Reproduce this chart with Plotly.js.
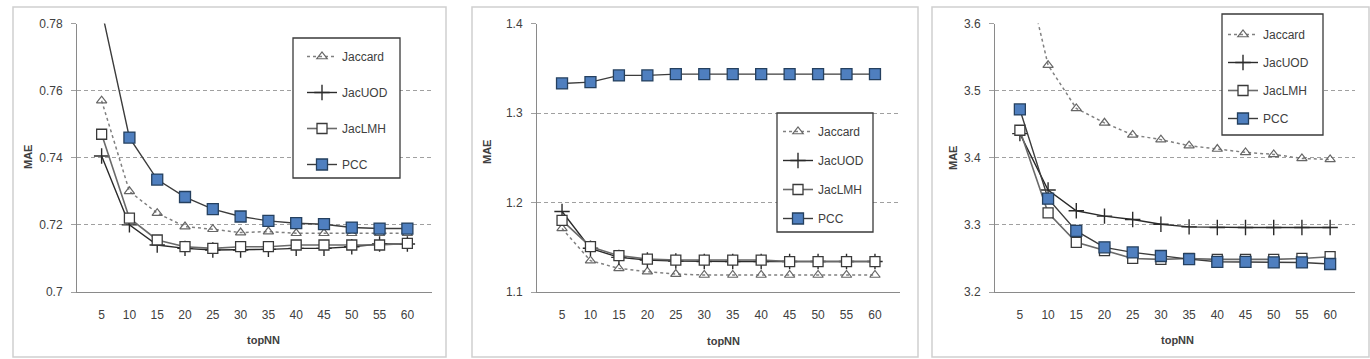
<!DOCTYPE html>
<html><head><meta charset="utf-8">
<script src="https://cdn.plot.ly/plotly-3.0.1.min.js"></script>
<style>html,body{margin:0;padding:0;background:#fff}#chart{width:1370px;height:359px}</style>
</head><body><div id="chart"></div>
<script>
const topNN = ["5","10","15","20","25","30","35","40","45","50","55","60"];
const seriesNames = ["Jaccard","JacUOD","JacLMH","PCC"];

// Panel 1
const p1_jaccard = [0.757,0.730,0.7235,0.7195,0.7187,0.7177,0.718,0.7175,0.7175,0.7175,0.7175,0.7175];
const p1_jacuod  = [0.7405,0.720,0.714,0.713,0.7125,0.7125,0.7127,0.713,0.713,0.7135,0.7143,0.7143];
const p1_jaclmh  = [0.747,0.722,0.7155,0.7135,0.713,0.7135,0.7135,0.714,0.714,0.714,0.714,0.7145];
const p1_pcc     = [0.784,0.746,0.7335,0.7283,0.7247,0.7225,0.7212,0.7205,0.7202,0.7192,0.7189,0.7189];

// Panel 2
const p2_jaccard = [1.171,1.135,1.1264,1.1227,1.120,1.119,1.119,1.119,1.119,1.119,1.119,1.119];
const p2_jacuod  = [1.190,1.1488,1.1387,1.1357,1.1346,1.134,1.134,1.134,1.134,1.134,1.134,1.134];
const p2_jaclmh  = [1.180,1.1506,1.1406,1.1368,1.1357,1.1357,1.1357,1.1357,1.134,1.134,1.134,1.134];
const p2_pcc     = [1.333,1.3345,1.342,1.342,1.3434,1.3434,1.3434,1.3434,1.3434,1.3434,1.3434,1.3434];

// Panel 3
const p3_jaccard = [3.7165,3.538,3.4735,3.452,3.434,3.427,3.418,3.413,3.408,3.405,3.399,3.3975];
const p3_jacuod  = [3.436,3.352,3.321,3.313,3.308,3.301,3.297,3.296,3.296,3.296,3.296,3.296];
const p3_jaclmh  = [3.441,3.318,3.274,3.2615,3.25,3.2486,3.25,3.2486,3.2486,3.2486,3.25,3.2526];
const p3_pcc     = [3.472,3.339,3.291,3.2665,3.259,3.2536,3.249,3.245,3.245,3.244,3.244,3.2417];

const W = 1370, H = 359;
const fx = v => v / W;
const fy = v => 1 - v / H;

const styles = [
  {line:{color:'#808080', width:1.5, dash:'3px,3px'}, marker:{symbol:'triangle-up-open', size:9, color:'#666666', line:{width:1.2,color:'#666666'}}},
  {line:{color:'#2b2b2b', width:1.4}, marker:{symbol:'cross-thin', size:11, color:'#2b2b2b', line:{width:1.4,color:'#2b2b2b'}}},
  {line:{color:'#6a6a6a', width:1.6}, marker:{symbol:'square', size:10, color:'#ffffff', line:{width:1.3,color:'#3a3a3a'}}},
  {line:{color:'#3c3c3c', width:1.4}, marker:{symbol:'square', size:11, color:'#4f7fbf', line:{width:1.3,color:'#25405f'}}}
];

const panels = [
  {data:[p1_jaccard,p1_jacuod,p1_jaclmh,p1_pcc], x:[77,432], range:[0.7,0.78], dtick:0.02, legend:'legend', gap:17,
   legx:302, legy:42, lbox:[293,38,400,178], box:[13,7,446,357], mae:[28,157], topnn:[263,340]},
  {data:[p2_jaccard,p2_jacuod,p2_jaclmh,p2_pcc], x:[537,900], range:[1.1,1.4], dtick:0.1, legend:'legend2', gap:10,
   legx:778, legy:117, lbox:[777,113,873,232], box:[472,7,918,357], mae:[487,152], topnn:[723,341]},
  {data:[p3_jaccard,p3_jacuod,p3_jaclmh,p3_pcc], x:[995,1355], range:[3.2,3.6], dtick:0.1, legend:'legend3', gap:9,
   legx:1223, legy:20, lbox:[1222,14,1323,135], box:[932,7,1369,357], mae:[953,158], topnn:[1177,340]}
];

const traces = [];
const layout = {
  width: W, height: H,
  margin:{l:0,r:0,t:0,b:0},
  paper_bgcolor:'#ffffff', plot_bgcolor:'#ffffff',
  font:{family:'Liberation Sans, Arial, sans-serif', size:11, color:'#404040'},
  shapes:[], annotations:[]
};

panels.forEach((p, i) => {
  const n = i === 0 ? '' : String(i + 1);
  const xa = 'x' + n, ya = 'y' + n;
  p.data.forEach((vals, k) => {
    traces.push({
      type:'scatter', mode:'lines+markers',
      x: topNN, y: vals, name: seriesNames[k],
      xaxis: xa, yaxis: ya, legend: p.legend, legendgroup: 'g' + i + k,
      line: styles[k].line, marker: styles[k].marker,
      cliponaxis: true
    });
  });
  layout['xaxis' + n] = {
    domain:[fx(p.x[0]), fx(p.x[1])], anchor: ya, type:'category',
    showgrid:false, showline:true, linecolor:'#8a8a8a', linewidth:1,
    ticks:'outside', ticklen:12, tickcolor:'rgba(0,0,0,0)',
    tickfont:{size:12, color:'#404040'}, zeroline:false, fixedrange:true
  };
  layout['yaxis' + n] = {
    domain:[fy(292), fy(23.5)], anchor: xa, range: p.range, dtick: p.dtick, tick0: p.range[0],
    showgrid:true, gridcolor:'#a0a0a0', griddash:'4px,3px', gridwidth:1,
    showline:true, linecolor:'#8a8a8a', linewidth:1,
    ticks:'outside', ticklen:5, tickcolor:'#a0a0a0', ticklabelstandoff:6,
    tickfont:{size:12, color:'#404040'}, zeroline:false, fixedrange:true
  };
  layout[p.legend] = {
    x: fx(p.legx), y: fy(p.legy), xanchor:'left', yanchor:'top',
    bgcolor:'rgba(0,0,0,0)', borderwidth:0,
    font:{size:12, color:'#404040'}, traceorder:'grouped', tracegroupgap:p.gap,
    itemclick:false
  };
  layout.shapes.push({type:'rect', xref:'paper', yref:'paper',
    x0: fx(p.box[0]), x1: fx(p.box[2]), y0: fy(p.box[3]), y1: fy(p.box[1]),
    line:{color:'#d0d0d0', width:1.5}, fillcolor:'rgba(0,0,0,0)', layer:'below'});
  layout.shapes.push({type:'rect', xref:'paper', yref:'paper',
    x0: fx(p.lbox[0]), x1: fx(p.lbox[2]), y0: fy(p.lbox[3]), y1: fy(p.lbox[1]),
    line:{color:'#3a3a3a', width:1.3}, fillcolor:'#ffffff', layer:'above'});
  layout.annotations.push({xref:'paper', yref:'paper', x: fx(p.mae[0]), y: fy(p.mae[1]),
    text:'<b>MAE</b>', textangle:-90, showarrow:false, font:{size:11, color:'#404040'}, xanchor:'center', yanchor:'middle'});
  layout.annotations.push({xref:'paper', yref:'paper', x: fx(p.topnn[0]), y: fy(p.topnn[1]),
    text:'<b>topNN</b>', showarrow:false, font:{size:11, color:'#404040'}, xanchor:'center', yanchor:'middle'});
});

Plotly.newPlot('chart', traces, layout, {staticPlot:true, displayModeBar:false});
</script>
</body></html>
